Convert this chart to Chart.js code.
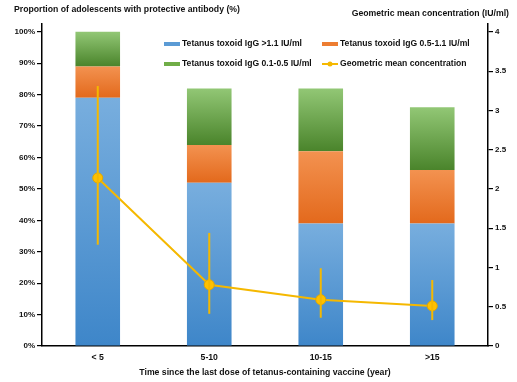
<!DOCTYPE html>
<html>
<head>
<meta charset="utf-8">
<script src="https://cdn.jsdelivr.net/npm/chart.js@4/dist/chart.umd.min.js"></script>
<style>
  body { margin: 0; background: #fff; }
  #wrap { width: 517px; height: 382px; position: relative; }
</style>
</head>
<body>
<div id="wrap"><canvas id="chart"></canvas></div>
<script>
// data
var categories = ['< 5', '5-10', '10-15', '>15'];
var igGHigh = [79, 52, 39, 39];   // % with IgG >1.1 IU/ml
var igGMid = [10, 12, 23, 17];    // % with IgG 0.5-1.1 IU/ml
var igGLow = [11, 18, 20, 20];    // % with IgG 0.1-0.5 IU/ml
var gmc = [2.14, 0.78, 0.59, 0.51];
var gmcLower = [1.29, 0.41, 0.36, 0.33];
var gmcUpper = [3.31, 1.44, 0.99, 0.84];
var pctTicks = [0, 10, 20, 30, 40, 50, 60, 70, 80, 90, 100];
var gmcTicks = [0, 0.5, 1, 1.5, 2, 2.5, 3, 3.5, 4];

var FONT = '"Liberation Sans", Arial, sans-serif';
var stacks = [igGHigh, igGMid, igGLow];
var shades = [
  ['#78aede', '#3e86c9'],
  ['#f39250', '#e3691c'],
  ['#92c775', '#4a842b']
];

// gradient for each bar segment, light at top, dark at bottom
function segFill(ctx) {
  var chart = ctx.chart;
  var ds = ctx.datasetIndex, i = ctx.dataIndex;
  if (!shades[ds]) return '#888';
  if (!chart.chartArea || i === undefined) return shades[ds][1];
  var y = chart.scales.y;
  var base = 0;
  for (var k = 0; k < ds; k++) base += stacks[k][i];
  var top = y.getPixelForValue(base + stacks[ds][i]);
  var bot = y.getPixelForValue(base);
  if (!isFinite(top) || !isFinite(bot) || top === bot) return shades[ds][1];
  var g = chart.ctx.createLinearGradient(0, top, 0, bot);
  g.addColorStop(0, shades[ds][0]);
  g.addColorStop(1, shades[ds][1]);
  return g;
}

var errorBars = {
  id: 'errorBars',
  afterDatasetsDraw: function(chart) {
    var c = chart.ctx, x = chart.scales.x, y2 = chart.scales.y2;
    c.save();
    c.strokeStyle = '#f5b800';
    c.lineWidth = 2;
    for (var i = 0; i < gmc.length; i++) {
      var px = x.getPixelForValue(i);
      c.beginPath();
      c.moveTo(px, y2.getPixelForValue(gmcUpper[i]));
      c.lineTo(px, y2.getPixelForValue(gmcLower[i]));
      c.stroke();
    }
    c.restore();
  }
};

var extras = {
  id: 'extras',
  afterDraw: function(chart) {
    var c = chart.ctx;
    c.save();
    c.fillStyle = '#111';
    c.font = 'bold 8.7px ' + FONT;
    c.textBaseline = 'middle';
    c.textAlign = 'left';
    c.fillText('Proportion of adolescents with protective antibody (%)', 14, 10);
    c.textAlign = 'right';
    c.fillText('Geometric mean concentration (IU/ml)', 509, 14);

    // legend
    var items = [
      { t: 'Tetanus toxoid IgG >1.1 IU/ml', col: '#5b9bd5', x: 164, y: 44 },
      { t: 'Tetanus toxoid IgG 0.5-1.1 IU/ml', col: '#ed7d31', x: 322, y: 44 },
      { t: 'Tetanus toxoid IgG 0.1-0.5 IU/ml', col: '#70ad47', x: 164, y: 64 },
      { t: 'Geometric mean concentration', col: '#ffc000', x: 322, y: 64, line: true }
    ];
    c.textAlign = 'left';
    c.font = 'bold 8.6px ' + FONT;
    items.forEach(function(it) {
      if (it.line) {
        c.strokeStyle = '#f5b800';
        c.lineWidth = 2;
        c.beginPath();
        c.moveTo(it.x, it.y);
        c.lineTo(it.x + 16, it.y);
        c.stroke();
        c.fillStyle = '#f5b800';
        c.beginPath();
        c.arc(it.x + 8, it.y, 2.5, 0, Math.PI * 2);
        c.fill();
      } else {
        c.fillStyle = it.col;
        c.fillRect(it.x, it.y - 2, 16, 4);
      }
      c.fillStyle = '#111';
      c.fillText(it.t, it.x + 18, it.y);
    });
    c.restore();
  }
};

new Chart(document.getElementById('chart'), {
  data: {
    labels: categories,
    datasets: [
      { type: 'bar', label: 'Tetanus toxoid IgG >1.1 IU/ml', data: igGHigh, backgroundColor: segFill, stack: 's', order: 1 },
      { type: 'bar', label: 'Tetanus toxoid IgG 0.5-1.1 IU/ml', data: igGMid, backgroundColor: segFill, stack: 's', order: 1 },
      { type: 'bar', label: 'Tetanus toxoid IgG 0.1-0.5 IU/ml', data: igGLow, backgroundColor: segFill, stack: 's', order: 1 },
      { type: 'line', label: 'Geometric mean concentration', data: gmc, yAxisID: 'y2',
        borderColor: '#f5b800', borderWidth: 2, backgroundColor: '#ffc000',
        pointBackgroundColor: '#ffc000', pointBorderColor: '#e0a800', pointBorderWidth: 1,
        pointRadius: 5, tension: 0, order: 0 }
    ]
  },
  options: {
    responsive: true,
    maintainAspectRatio: false,
    animation: false,
    layout: { padding: { top: 24, left: 0, right: 0, bottom: 0 } },
    datasets: { bar: { categoryPercentage: 1, barPercentage: 0.4 } },
    plugins: { legend: { display: false }, tooltip: { enabled: false } },
    scales: {
      x: {
        stacked: true,
        grid: { display: false, drawTicks: false },
        border: { color: '#000', width: 1.5 },
        ticks: { color: '#111', font: { family: FONT, size: 8.7, weight: 'bold' }, padding: 6 },
        title: { display: true, text: 'Time since the last dose of tetanus-containing vaccine (year)',
          color: '#111', font: { family: FONT, size: 8.7, weight: 'bold' }, padding: { top: 0, bottom: 4 } },
        afterFit: function(s) { s.height = 36; }
      },
      y: {
        stacked: true,
        position: 'left',
        min: 0, max: 102.5,
        afterBuildTicks: function(s) { s.ticks = pctTicks.map(function(v) { return { value: v }; }); },
        grid: { drawOnChartArea: false, color: '#000', tickLength: 5, lineWidth: 1.2 },
        border: { color: '#000', width: 1.5 },
        ticks: { color: '#111', font: { family: FONT, size: 8, weight: 'bold' }, padding: 2,
          callback: function(v) { return v + '%'; } },
        afterFit: function(s) { s.width = 42; }
      },
      y2: {
        position: 'right',
        min: 0, max: 4.1,
        afterBuildTicks: function(s) { s.ticks = gmcTicks.map(function(v) { return { value: v }; }); },
        grid: { drawOnChartArea: false, color: '#000', tickLength: 5, lineWidth: 1.2 },
        border: { color: '#000', width: 1.5 },
        ticks: { color: '#111', font: { family: FONT, size: 8, weight: 'bold' }, padding: 2,
          callback: function(v) { return String(v); } },
        afterFit: function(s) { s.width = 29; }
      }
    }
  },
  plugins: [errorBars, extras]
});
</script>
</body>
</html>
